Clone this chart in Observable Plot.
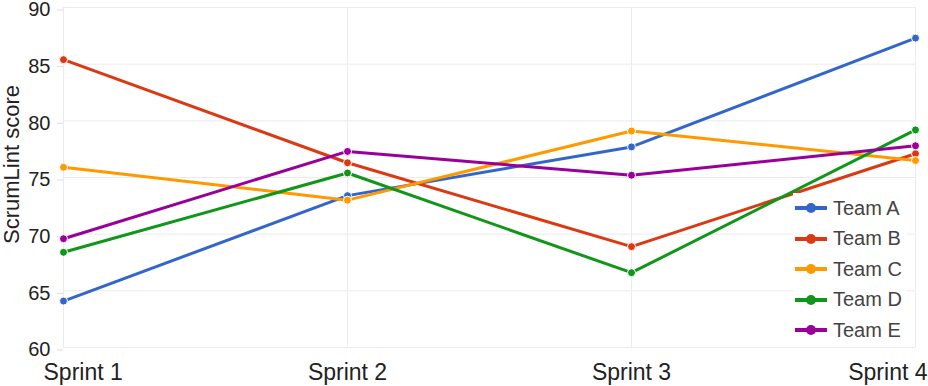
<!DOCTYPE html>
<html>
<head>
<meta charset="utf-8">
<script src="https://cdn.jsdelivr.net/npm/d3@7"></script>
<script src="https://cdn.jsdelivr.net/npm/@observablehq/plot@0.6"></script>
<style>
  html, body { margin: 0; padding: 0; background: white; }
  #wrap { position: relative; width: 928px; height: 386px; }
  #legend { position: absolute; left: 793px; top: 193px; width: 114px; background: white;
            font-family: "Liberation Sans", Arial, sans-serif; font-size: 20px; color: #444; }
  .item { height: 30.5px; display: flex; align-items: center; }
  .item svg { flex: none; }
  .item span { margin-left: 4px; }
</style>
</head>
<body>
<div id="wrap"></div>
<script>
const sprints = ["Sprint 1", "Sprint 2", "Sprint 3", "Sprint 4"];
const teams = ["Team A", "Team B", "Team C", "Team D", "Team E"];
const colors = ["#3366cc", "#dc3912", "#ff9900", "#109618", "#990099"];
const teamA = [64.1, 73.4, 77.7, 87.3];
const teamB = [85.4, 76.3, 68.9, 77.1];
const teamC = [75.9, 73.0, 79.1, 76.5];
const teamD = [68.4, 75.4, 66.6, 79.2];
const teamE = [69.6, 77.3, 75.2, 77.8];
const yTicks = [60, 65, 70, 75, 80, 85, 90];

const series = [teamA, teamB, teamC, teamD, teamE];
const data = [];
series.forEach((vals, i) => vals.forEach((v, j) => data.push({team: teams[i], sprint: sprints[j], score: v})));

const chart = Plot.plot({
  width: 928, height: 386,
  marginLeft: 63, marginRight: 13, marginTop: 7, marginBottom: 39,
  x: {type: "point", domain: sprints, padding: 0},
  y: {domain: [60, 90]},
  color: {domain: teams, range: colors},
  style: {fontFamily: "'Liberation Sans', Arial, sans-serif", fontSize: "20px", background: "white", color: "#222", overflow: "visible"},
  marks: [
    Plot.gridY(yTicks, {stroke: "#ebebeb", strokeOpacity: 1}),
    Plot.gridX(sprints, {stroke: "#ebebeb", strokeOpacity: 1}),
    Plot.axisY(yTicks, {tickSize: 6, tickPadding: 7, stroke: "#dcdcdc", fill: "#222", fontSize: 20, dy: 2.5, label: null}),
    Plot.axisX(sprints.slice(1, 3), {tickSize: 0, tickPadding: 16, fill: "#222", fontSize: 23, label: null}),
    Plot.axisX([sprints[0]], {tickSize: 0, tickPadding: 16, fill: "#222", fontSize: 23, textAnchor: "start", dx: -20, label: null}),
    Plot.axisX([sprints[3]], {tickSize: 0, tickPadding: 16, fill: "#222", fontSize: 23, textAnchor: "end", dx: 12, label: null}),
    Plot.text(["ScrumLint score"], {frameAnchor: "left", textAnchor: "middle", lineAnchor: "middle", rotate: -90, dx: -52, dy: -13, text: d => d, fontSize: 22, fill: "#222"}),
    Plot.line(data, {x: "sprint", y: "score", z: "team", stroke: "team", strokeWidth: 3}),
    Plot.dot(data, {x: "sprint", y: "score", fill: "team", r: 4, stroke: "white", strokeWidth: 1})
  ]
});

const wrap = document.getElementById("wrap");
wrap.appendChild(chart);

const legend = document.createElement("div");
legend.id = "legend";
teams.forEach((t, i) => {
  const item = document.createElement("div");
  item.className = "item";
  item.innerHTML = `<svg width="36" height="14"><line x1="2" x2="34" y1="7" y2="7" stroke="${colors[i]}" stroke-width="4"/><circle cx="18" cy="7" r="5" fill="${colors[i]}"/></svg><span>${t}</span>`;
  legend.appendChild(item);
});
wrap.appendChild(legend);
</script>
</body>
</html>
